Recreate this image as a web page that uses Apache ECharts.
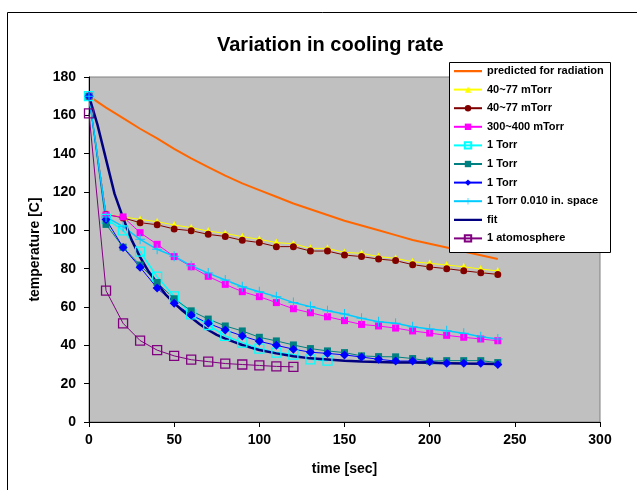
<!DOCTYPE html>
<html>
<head>
<meta charset="utf-8">
<script src="https://cdn.jsdelivr.net/npm/echarts@6/dist/echarts.min.js"></script>
<style>html,body{margin:0;padding:0;background:#fff;}#c{width:637px;height:490px;}</style>
</head>
<body>
<div id="c"></div>
<script>
// time axes (s)
var t10 = [0,10,20,30,40,50,60,70,80,90,100,110,120,130,140,150,160,170,180,190,200,210,220,230,240];
var tCyan = [0,10,20,30,40,50,60,70,80,90,100,110,120,130,140];
var tAtm = [0,10,20,30,40,50,60,70,80,90,100,110,120];
var tFit = [0,5,10,15,20,25,30,35,40,45,50,55,60,65,70,75,80,85,90,95,100,110,120,130,140,150,160,170,180,190,200,210,220,230,240];

// temperatures (C)
var radiation = [170,164,158.5,153,148,142.5,137.5,133,128.5,124.5,121,117.5,114,111,108,105,102.5,100,97.5,95,93,91,89,87,85];
var mTorrA = [170,108.5,107,105.7,104.5,102.8,101.4,99.6,98.4,96.7,95.3,93.6,93,90.6,90.6,88.5,88,86.3,85.4,83.6,82.8,81.9,81,79.8,78.8];
var mTorrB = [170,108.4,106.5,104,102.9,100.7,99.8,97.9,96.8,94.8,93.6,91.5,91.5,89.2,89.2,87.1,86.3,85,84.2,82.1,80.9,80,78.9,77.9,77];
var mTorr300 = [170,108,107,98.8,92.7,86.3,81,76,71.8,68,65.4,62.3,59.1,57,54.9,52.9,50.9,50.1,49,47.5,46.4,45.2,44.2,43.3,42.4];
var torrCyan = [170,106,100,88.9,75.8,65.5,56.2,50.6,44.9,41.4,38.3,36.2,35.2,32.7,32];
var torrTeal = [170,103.1,91.2,81.9,72.8,64.3,58,53.7,50.1,47.5,44.2,42.3,40.2,38.3,37.1,36.2,34.5,34.1,34,33.1,31.8,32,32,32,31];
var torrBlue = [170,105.7,91.1,80.7,69.9,62,55.8,51.5,48,44.9,42.1,40,38,36.4,35.8,35,33.9,32.7,31.8,31.8,31.5,30.6,30.6,30.6,30];
var torrSpace = [170,107,101.9,95.3,90.1,86.5,81.5,77.7,74.1,70.6,68,65.4,62.3,60.2,58.1,56.3,54.1,52.3,51.5,49.7,48.5,47.6,46.3,44.5,43.3];
var fit = [170,155,137,119,106.5,95,86,78.5,72.5,66.5,62,58,54.5,51,48,45.5,43.5,41.8,40.2,38.8,37.6,35.8,34.3,33.2,32.6,32,31.6,31.3,31.1,31,30.9,30.7,30.5,30.4,30.2];
var atm = [161,68.5,51.5,42.5,37.5,34.5,32.5,31.5,30.5,30,29.5,29,28.8];

var names = ['predicted for radiation','40~77 mTorr','40~77 mTorr ','300~400 mTorr','1 Torr','1 Torr ','1 Torr  ','1 Torr 0.010 in. space','fit','1 atomosphere'];
var xTicks = {min:0, max:300, interval:50};
var yTicks = {min:0, max:180, interval:20};

function pairs(t, v){ return t.map(function(x,i){ return [x, v[i]]; }); }
var plus = 'path://M4.5,0h1v4.5h4.5v1h-4.5v4.5h-1v-4.5h-4.5v-1h4.5z';
var lineIcon = 'path://M0,0h0.01v0.01h-0.01z M0,3h28v2.2h-28z M27.99,7.99h0.01v0.01h-0.01z';
var FONT = '"Liberation Sans", Arial, sans-serif';

function line(name, data, color, lw, symbol, size, open){
  return {
    name: name, type: 'line', data: data, animation: false,
    lineStyle: {color: color, width: lw},
    symbol: symbol || 'none', symbolSize: size || 0, showSymbol: !!symbol,
    itemStyle: open ? {color: 'rgba(0,0,0,0)', borderColor: color, borderWidth: 1.3} : {color: color, borderWidth: 0},
    emphasis: {disabled: true}
  };
}

var legendData = names.map(function(n, i){
  return (i === 0 || i === 8) ? {name: n, icon: lineIcon} : {name: n};
});

var chart = echarts.init(document.getElementById('c'), null, {renderer: 'canvas'});
chart.setOption({
  backgroundColor: '#fff',
  animation: false,
  title: {
    text: 'Variation in cooling rate', left: 212, top: 30,
    textStyle: {fontFamily: FONT, fontWeight: 'bold', fontSize: 20, color: '#000'}
  },
  graphic: [
    {type: 'rect', shape: {x: 7.5, y: 12.5, width: 700, height: 600}, style: {fill: 'none', stroke: '#000', lineWidth: 1}, z: 0, silent: true},
    {type: 'rect', shape: {x: 449.5, y: 62.5, width: 161, height: 190}, style: {fill: '#fff', stroke: '#000', lineWidth: 1}, z: 50, silent: true}
  ],
  legend: {
    orient: 'vertical', left: 453, top: 65, padding: 0,
    itemWidth: 28, itemHeight: 8, itemGap: 6.6, itemTextGap: 4, z: 60,
    data: legendData, selectedMode: false,
    textStyle: {fontFamily: FONT, fontWeight: 'bold', fontSize: 11, color: '#000', lineHeight: 12}
  },
  grid: {left: 89, top: 77, right: 37, bottom: 68, show: true, backgroundColor: '#C0C0C0', borderColor: '#808080', borderWidth: 1},
  xAxis: {
    type: 'value', min: xTicks.min, max: xTicks.max, interval: xTicks.interval,
    name: 'time [sec]', nameLocation: 'middle', nameGap: 40,
    nameTextStyle: {fontFamily: FONT, fontWeight: 'bold', fontSize: 14, color: '#000'},
    axisLine: {show: true, lineStyle: {color: '#000', width: 1}},
    axisTick: {show: true, inside: false, length: 5, lineStyle: {color: '#000'}},
    axisLabel: {margin: 11, fontFamily: FONT, fontWeight: 'bold', fontSize: 14, color: '#000'},
    splitLine: {show: false}
  },
  yAxis: {
    type: 'value', min: yTicks.min, max: yTicks.max, interval: yTicks.interval,
    name: 'temperature [C]', nameLocation: 'middle', nameGap: 47,
    nameTextStyle: {fontFamily: FONT, fontWeight: 'bold', fontSize: 14, color: '#000'},
    axisLine: {show: true, lineStyle: {color: '#000', width: 1}},
    axisTick: {show: true, inside: false, length: 5, lineStyle: {color: '#000'}},
    axisLabel: {margin: 13, fontFamily: FONT, fontWeight: 'bold', fontSize: 14, color: '#000'},
    splitLine: {show: false}
  },
  series: [
    line(names[0], pairs(t10, radiation), '#FF6600', 2, null, 0),
    line(names[1], pairs(t10, mTorrA), '#FFFF00', 1, 'triangle', 8),
    line(names[2], pairs(t10, mTorrB), '#800000', 1, 'circle', 7),
    line(names[3], pairs(t10, mTorr300), '#FF00FF', 1, 'rect', 7),
    line(names[4], pairs(tCyan, torrCyan), '#00FFFF', 1.5, 'rect', 9, true),
    line(names[5], pairs(t10, torrTeal), '#008080', 1, 'rect', 7),
    line(names[6], pairs(t10, torrBlue), '#0000FF', 1, 'diamond', 9),
    line(names[7], pairs(t10, torrSpace), '#00CCFF', 1.5, plus, 10),
    line(names[8], pairs(tFit, fit), '#000080', 2.5, null, 0),
    line(names[9], pairs(tAtm, atm), '#800080', 1, 'rect', 9, true)
  ]
});
</script>
</body>
</html>
